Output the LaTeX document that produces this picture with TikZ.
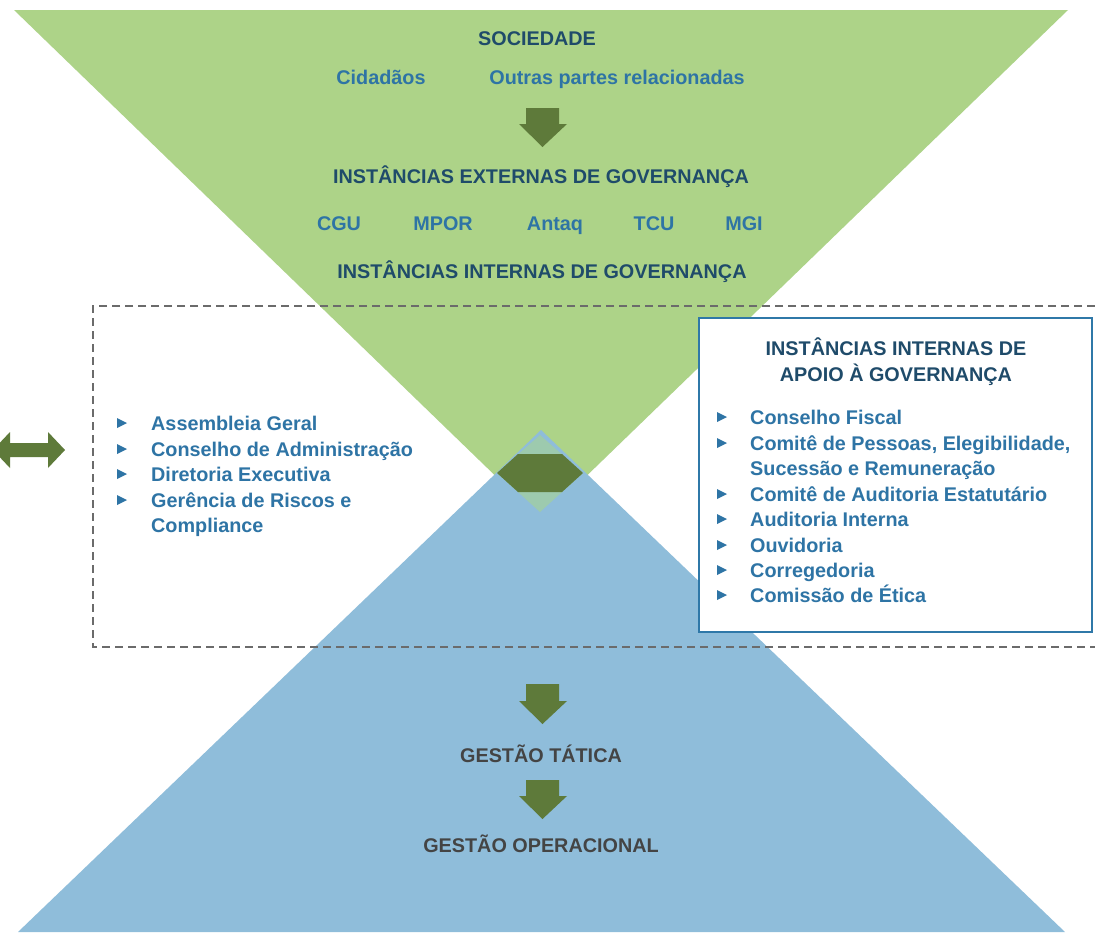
\documentclass[tikz,border=0pt]{standalone}
\usepackage{fontspec}
\setmainfont{Liberation Sans}
\definecolor{tgreen}{HTML}{ADD388}
\definecolor{tblue}{HTML}{8FBDDA}
\definecolor{dgreen}{HTML}{5E7A3A}
\definecolor{navy}{HTML}{1F4B6A}
\definecolor{iblue}{HTML}{2E74A5}
\definecolor{gtxt}{HTML}{444444}
\definecolor{dgray}{HTML}{6B6B6B}
\definecolor{boxblue}{HTML}{2F78A8}
\definecolor{lteal}{HTML}{9DCAAE}
\begin{document}
\begin{tikzpicture}[x=1pt,y=-1pt,
  txt/.style={font=\bfseries\fontsize{19.8}{23}\selectfont, inner sep=0pt, anchor=base},
  hdr/.style={txt, text=navy},
  sub/.style={txt, text=iblue},
  gst/.style={txt, text=gtxt},
  itm/.style={txt, text=iblue, anchor=base west},
  bul/.style={fill=iblue},
  arr/.style={fill=dgreen},
  dashline/.style={draw=dgray, line width=2pt, dash pattern=on 8pt off 5pt},
  apoiobox/.style={draw=boxblue, line width=1.6pt, fill=white}
]
\useasboundingbox (0,0) rectangle (1095,932);
\fill[white] (0,0) rectangle (1095,932);
% triangles
\fill[tgreen] (14,10) -- (1068,10) -- (541,520) -- cycle;
\fill[tblue] (18,932) -- (1065,932) -- (541,430) -- cycle;
% dashed frame
\draw[dashline] (1095,306) -- (93,306) -- (93,647) -- (1095,647);
% support box
\draw[apoiobox] (699,318) rectangle (1092,632);
% centre arrow
\fill[lteal] (497,473) -- (540,435) -- (583,473) -- (540,512) -- cycle;
\fill[dgreen] (497,473) -- (518,454) -- (562,454) -- (583,473) -- (562,492) -- (518,492) -- cycle;
% left double arrow
\fill[arr] (-7,450) -- (10,432) -- (10,443) -- (48,443) -- (48,432) -- (65,450) -- (48,468) -- (48,457) -- (10,457) -- (10,468) -- cycle;
% down arrows
\fill[arr] (526,108) -- (559,108) -- (559,124) -- (567,124) -- (542.5,147) -- (519,124) -- (526,124) -- cycle;
\fill[arr] (526,684) -- (559,684) -- (559,701) -- (567,701) -- (542.5,724) -- (519,701) -- (526,701) -- cycle;
\fill[arr] (526,780) -- (559,780) -- (559,796) -- (567,796) -- (542.5,819) -- (519,796) -- (526,796) -- cycle;
% top texts
\node[hdr] (soc) at (537,45) {SOCIEDADE};
\node[sub] (cid) at (381,84) {Cidadãos};
\node[sub] (out) at (617,84) {Outras partes relacionadas};
\node[hdr] (ext) at (541,183) {INSTÂNCIAS EXTERNAS DE GOVERNANÇA};
\node[sub] (cgu) at (339,230) {CGU};
\node[sub] (mpor) at (443,230) {MPOR};
\node[sub] (antaq) at (555,230) {Antaq};
\node[sub] (tcu) at (654,230) {TCU};
\node[sub] (mgi) at (744,230) {MGI};
\node[hdr] (int) at (542,278) {INSTÂNCIAS INTERNAS DE GOVERNANÇA};
% box header
\node[hdr] (ap1) at (896,355) {INSTÂNCIAS INTERNAS DE};
\node[hdr] (ap2) at (896,381) {APOIO À GOVERNANÇA};
% left list
\foreach \y/\t [count=\i] in {430/Assembleia Geral, 456/Conselho de Administração, 481/Diretoria Executiva, 507/Gerência de Riscos e}{
  \fill[bul] (117,\y-12) -- (127,\y-7) -- (117,\y-2) -- cycle;
  \node[itm] (l\i) at (151,\y) {\t};
}
\node[itm] (l5) at (151,532) {Compliance};
% right list
\foreach \y/\t [count=\i] in {424/Conselho Fiscal, 450/{Comitê de Pessoas, Elegibilidade,}, 501/Comitê de Auditoria Estatutário, 526/Auditoria Interna, 552/Ouvidoria, 577/Corregedoria, 602/Comissão de Ética}{
  \fill[bul] (717,\y-12) -- (727,\y-7) -- (717,\y-2) -- cycle;
  \node[itm] (r\i) at (750,\y) {\t};
}
\node[itm] (r2b) at (750,475) {Sucessão e Remuneração};
% management
\node[gst] (tat) at (541,762) {GESTÃO TÁTICA};
\node[gst] (ope) at (541,852) {GESTÃO OPERACIONAL};
\end{tikzpicture}
\end{document}
